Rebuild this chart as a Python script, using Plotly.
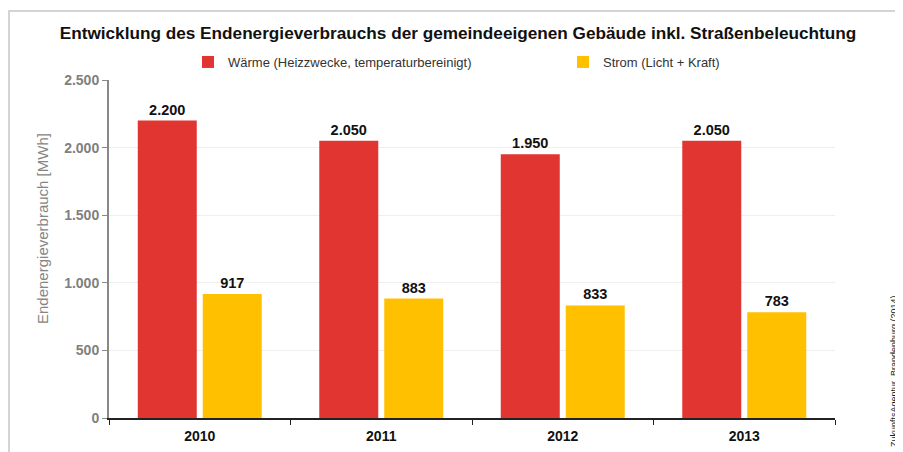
import plotly.graph_objects as go

years = ["2010", "2011", "2012", "2013"]
waerme = [2200, 2050, 1950, 2050]
strom = [917, 883, 833, 783]
series_names = ["Wärme (Heizzwecke, temperaturbereinigt)", "Strom (Licht + Kraft)"]
colors = ["#E03531", "#FFC000"]

# page has an 8px body margin; work in screenshot pixels and convert
OX, OY = 8, 8
W, H = 903 - OX, 452 - OY
PL, PR, PT, PB = 109, 835, 80, 418   # plot area in screenshot pixels
L, T = PL - OX, PT - OY
R, B = (W + OX) - PR, (H + OY) - PB
pw, ph = PR - PL, PB - PT

def px_x(x):
    return (x - PL) / pw

def px_y(y):
    return (PB - y) / ph

FONT = "Liberation Sans, Arial"

fig = go.Figure()
for i, (name, vals, col) in enumerate(zip(series_names, [waerme, strom], colors)):
    fig.add_trace(go.Bar(
        x=years, y=vals, name=name, marker_color=col, marker_line_width=0,
        text=vals, texttemplate="%{y:,.0f}", textposition="outside",
        textfont=dict(family=FONT, size=14.5, color="#111111", weight="bold"),
        cliponaxis=False,
        legend="legend" if i == 0 else "legend2",
    ))

legend_common = dict(orientation="h", yanchor="middle", font=dict(family=FONT, size=13, color="#333333"),
                     bgcolor="rgba(0,0,0,0)", itemwidth=30)

fig.update_layout(
    width=W, height=H,
    margin=dict(l=L, r=R, t=T, b=B, autoexpand=False),
    paper_bgcolor="white", plot_bgcolor="white",
    separators=",.",
    barmode="group", bargap=0.284, bargroupgap=0.092,
    font=dict(family=FONT, color="#222222"),
    title=dict(text="<b>Entwicklung des Endenergieverbrauchs der gemeindeeigenen Gebäude inkl. Straßenbeleuchtung</b>",
               x=(458 - OX) / W, xanchor="center", y=1 - (33 - OY) / H, yanchor="middle",
               font=dict(size=17.2, color="#111111")),
    legend=dict(x=px_x(188), xanchor="left", y=px_y(62), **legend_common),
    legend2=dict(x=px_x(563), xanchor="left", y=px_y(62), **legend_common),
    showlegend=True,
)
fig.update_yaxes(
    range=[0, 2500], dtick=500, tickformat=",.0f",
    showgrid=True, gridcolor="#efefef", gridwidth=1,
    showline=True, linecolor="#888888", linewidth=2,
    ticks="outside", ticklen=5, tickcolor="#888888",
    tickfont=dict(size=14, color="#808080", weight="bold"),
    zeroline=False,
)
fig.update_xaxes(
    showline=True, linecolor="#222222", linewidth=2,
    ticks="outside", tickson="boundaries", ticklen=5, tickcolor="#222222",
    tickfont=dict(size=14, color="#111111", weight="bold"),
    ticklabelstandoff=4,
    showgrid=False,
)

# y axis title (placed as in the reference, above plot-centre)
fig.add_annotation(text="Endenergieverbrauch [MWh]", textangle=-90, xref="paper", yref="paper",
                   x=px_x(42), y=px_y(229), showarrow=False, xanchor="center", yanchor="middle",
                   font=dict(family=FONT, size=15, color="#858585"))

# frame lines
fig.add_shape(type="line", xref="paper", yref="paper", x0=px_x(8), x1=px_x(903), y0=px_y(11), y1=px_y(11),
              line=dict(color="#d4d4d4", width=2))
fig.add_shape(type="line", xref="paper", yref="paper", x0=px_x(9), x1=px_x(9), y0=px_y(11), y1=px_y(452),
              line=dict(color="#d4d4d4", width=2))

fig.add_annotation(text="ZukunftsAgentur  Brandenburg (2014)", textangle=-90, xref="paper", yref="paper",
                   x=px_x(894), y=px_y(371), showarrow=False, xanchor="center", yanchor="middle",
                   font=dict(family=FONT, size=9, color="#222222"))

fig.write_html("out.html")
